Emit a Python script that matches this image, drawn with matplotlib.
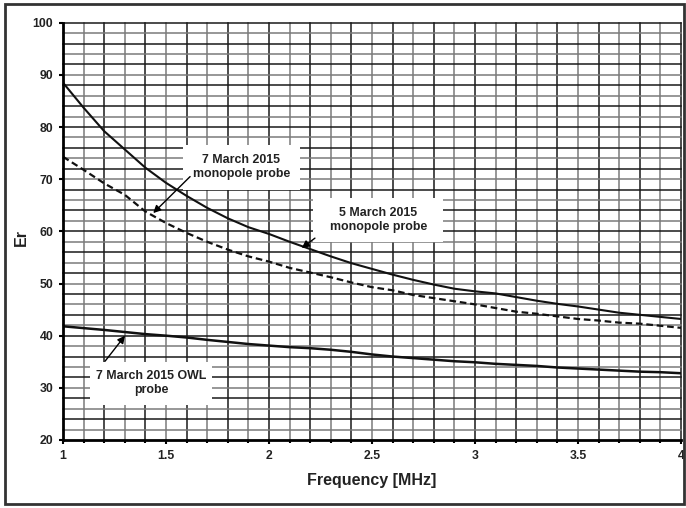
import matplotlib
matplotlib.use("Agg")
import matplotlib.pyplot as plt
from matplotlib.patches import Rectangle
import numpy as np

plt.rcParams['font.family'] = ['Liberation Sans', 'DejaVu Sans']

# Data
freq_5mar = [1.0, 1.1, 1.2, 1.3, 1.4, 1.5, 1.6, 1.7, 1.8, 1.9, 2.0, 2.1, 2.2, 2.3, 2.4,
             2.5, 2.6, 2.7, 2.8, 2.9, 3.0, 3.1, 3.2, 3.3, 3.4, 3.5, 3.6, 3.7, 3.8, 3.9, 4.0]
er_5mar = [88.5, 83.7, 79.2, 75.7, 72.2, 69.3, 66.8, 64.5, 62.5, 60.8, 59.5, 58.0, 56.6, 55.2, 53.9,
           52.8, 51.7, 50.7, 49.8, 49.0, 48.5, 48.1, 47.4, 46.7, 46.1, 45.6, 45.0, 44.4, 44.0, 43.6, 43.2]

freq_7mar = freq_5mar
er_7mar = [74.3, 71.8, 69.2, 67.0, 63.8, 61.6, 59.7, 58.0, 56.5, 55.2, 54.2, 53.0, 52.1, 51.2, 50.2,
           49.3, 48.7, 47.8, 47.2, 46.6, 46.0, 45.3, 44.6, 44.2, 43.7, 43.2, 42.9, 42.5, 42.3, 41.9, 41.5]

freq_owl = freq_5mar
er_owl = [41.8, 41.45, 41.1, 40.7, 40.3, 40.0, 39.65, 39.2, 38.8, 38.4, 38.1, 37.8, 37.6, 37.3, 36.9,
          36.4, 36.0, 35.7, 35.4, 35.1, 34.9, 34.6, 34.4, 34.2, 33.9, 33.7, 33.5, 33.3, 33.1, 33.0, 32.8]

x_ticks = [1, 1.5, 2, 2.5, 3, 3.5, 4]
x_ticklabels = ['1', '1.5', '2', '2.5', '3', '3.5', '4']
y_ticks = [20, 30, 40, 50, 60, 70, 80, 90, 100]

fig = plt.figure(figsize=(6.86, 5.08), dpi=100)
ax = fig.add_axes([63/686, 1-440/508, (681-63)/686, (440-22.7)/508])
ax.set_xlim(1, 4)
ax.set_ylim(20, 100)

# grid: alternating dark / grey lines
dark = '#1a1a1a'
grey = '#7a7a7a'
for i, xv in enumerate(np.arange(1.1, 4.001, 0.1)):
    ax.axvline(xv, color=dark if (i % 2 == 1) else grey, lw=1.1, zorder=0, clip_on=False)
for i, yv in enumerate(np.arange(22, 100.001, 2)):
    ax.axhline(yv, color=dark if (i % 2 == 1) else grey, lw=1.1, zorder=0, clip_on=False)

ax.plot(freq_5mar, er_5mar, color='#111111', lw=1.5, zorder=3)
ax.plot(freq_7mar, er_7mar, color='#111111', lw=1.6, ls=(0, (3.0, 1.7)), zorder=3)
ax.plot(freq_owl, er_owl, color='#111111', lw=1.8, zorder=3)

for s in ['top', 'right']:
    ax.spines[s].set_visible(False)
for s in ['left', 'bottom']:
    ax.spines[s].set_linewidth(2.0)
    ax.spines[s].set_color('black')
    ax.spines[s].set_zorder(4)

ax.set_xticks(x_ticks)
ax.set_xticklabels(x_ticklabels)
ax.set_xticks(np.arange(1.1, 4.0, 0.1), minor=True)
ax.set_yticks(y_ticks)
ax.tick_params(axis='both', which='major', direction='out', length=3, width=1.5,
               labelsize=8.8, pad=4)
ax.tick_params(axis='x', which='minor', direction='out', length=2.5, width=1.5)
for lbl in ax.get_xticklabels() + ax.get_yticklabels():
    lbl.set_fontweight('bold')
    lbl.set_color('#222222')

ax.set_xlabel('Frequency [MHz]', fontsize=11.5, fontweight='bold', color='#222222')
ax.xaxis.set_label_coords(0.5, -0.08)
ax.set_ylabel('Er', fontsize=11.5, fontweight='bold', color='#222222')
ax.yaxis.set_label_coords(-0.055, 0.485)

# annotation boxes
boxes = [
    ((1.583, 67.9), 0.567, 8.7, (1.866, 72.3), '7 March 2015\nmonopole probe'),
    ((2.214, 58.0), 0.631, 8.4, (2.53, 62.2), '5 March 2015\nmonopole probe'),
    ((1.131, 26.8), 0.592, 8.2, (1.427, 30.9), '7 March 2015 OWL\nprobe'),
]
for (xy, w, h, txy, txt) in boxes:
    ax.add_patch(Rectangle(xy, w, h, facecolor='white', edgecolor='none', zorder=2))
    ax.text(txy[0], txy[1], txt, ha='center', va='center', fontsize=8.9,
            fontweight='bold', color='#222222', linespacing=1.2, zorder=5)

arrows = [((1.438, 63.5), (1.617, 70.5)),
          ((2.159, 56.8), (2.223, 58.7)),
          ((1.301, 40.0), (1.204, 35.1))]
for head, tail in arrows:
    ax.annotate('', xy=head, xytext=tail,
                arrowprops=dict(arrowstyle='-|>', color='black', lw=1.0,
                                mutation_scale=11, shrinkA=0, shrinkB=0),
                zorder=6)

# outer frame
fig.patches.append(Rectangle((5/686, 4/508), (684-5)/686, (504-4)/508,
                             transform=fig.transFigure, fill=False,
                             edgecolor='#333333', lw=2.0))

fig.savefig('out.png', dpi=100)
